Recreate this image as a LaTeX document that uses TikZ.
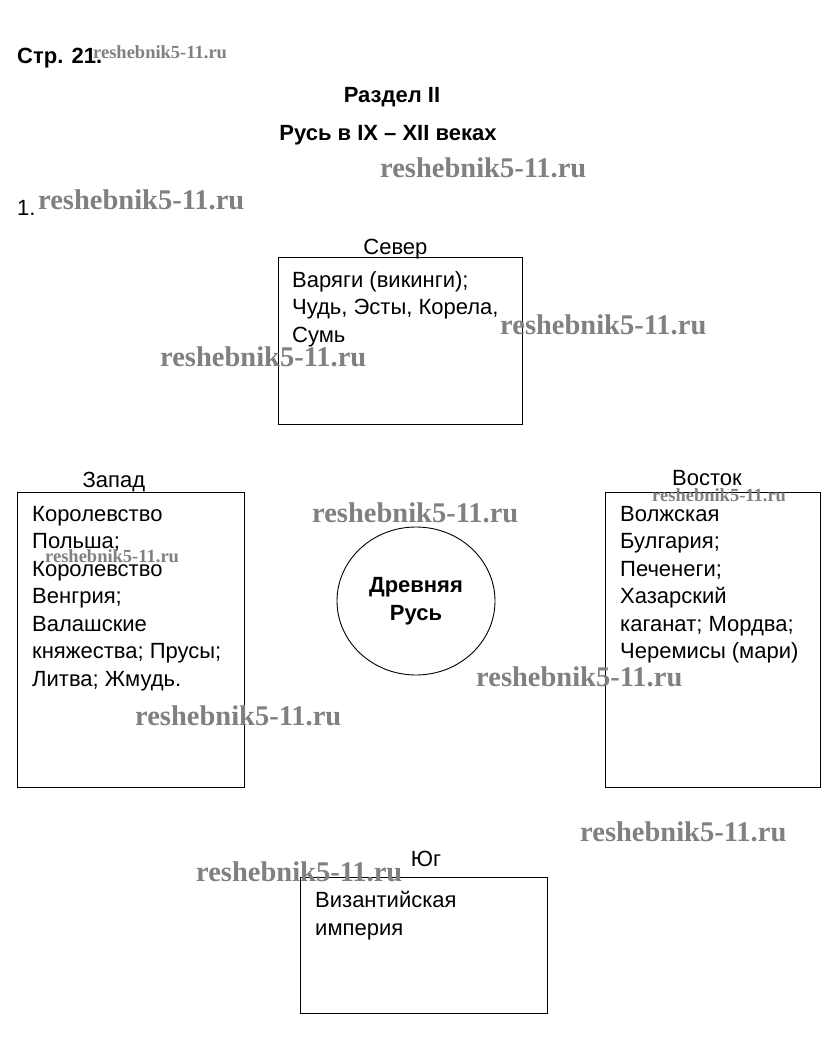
\documentclass[tikz,border=0pt]{standalone}
\usepackage{fontspec}
\setmainfont{Liberation Sans}
\newfontfamily\wmfont{Liberation Serif}
\usetikzlibrary{positioning,shapes.geometric}
\tikzset{
  box/.style={draw, line width=0.9pt, rectangle, inner sep=0pt, anchor=north west},
  boxtext/.style={anchor=north west, inner sep=0pt, align=left,
    font=\fontsize{22}{27.5}\selectfont},
  side/.style={anchor=base, inner sep=0pt, font=\fontsize{22}{24}\selectfont},
  head/.style={anchor=base, inner sep=0pt, font=\bfseries\fontsize{22}{24}\selectfont},
  wmark/.style={anchor=west, inner sep=0pt, text=black!50,
    font=\wmfont\bfseries\fontsize{28.5}{28.5}\selectfont},
  wsmall/.style={wmark, font=\wmfont\bfseries\fontsize{18.5}{18.5}\selectfont}
}
\begin{document}
\begin{tikzpicture}[x=1pt,y=-1pt]
  \useasboundingbox (0,0) rectangle (833,1060);
  % titles
  \node[head, anchor=base west] (page) at (17,63) {Стр. 21.};
  \node[head] (part) at (392,102) {Раздел II};
  \node[head] (title) at (388,140) {Русь в IX – XII веках};
  \node[side, anchor=base west] (task) at (17,215) {1.};
  % boxes
  \node[box, minimum width=244pt, minimum height=167pt] (sever) at (278,257) {};
  \node[box, minimum width=227pt, minimum height=295pt] (zapad) at (17,492) {};
  \node[box, minimum width=215pt, minimum height=295pt] (vostok) at (605,492) {};
  \node[box, minimum width=247pt, minimum height=136pt] (yug) at (300,877) {};
  \node[draw, line width=0.9pt, ellipse, minimum width=158pt, minimum height=148pt,
    align=center, font=\bfseries\fontsize{22}{27.5}\selectfont] (rus) at (416,601)
    {Древняя\\Русь};
  % labels
  \node[side] (lsever) at ([xshift=-5pt,yshift=3pt]sever.north) {Север};
  \node[side] (lzapad) at ([xshift=-17pt,yshift=5pt]zapad.north) {Запад};
  \node[side] (lvostok) at ([xshift=-6pt,yshift=7pt]vostok.north) {Восток};
  \node[side] (lyug) at ([xshift=2pt,yshift=11pt]yug.north) {Юг};
  % texts
  \node[boxtext] (tsever) at ([xshift=14pt,yshift=-14pt]sever.north west)
    {Варяги (викинги);\\Чудь, Эсты, Корела,\\Сумь};
  \node[boxtext] (tzapad) at ([xshift=15pt,yshift=-14pt]zapad.north west)
    {Королевство\\Польша;\\Королевство\\Венгрия;\\Валашские\\княжества; Прусы;\\Литва; Жмудь.};
  \node[boxtext] (tvostok) at ([xshift=15pt,yshift=-14pt]vostok.north west)
    {Волжская\\Булгария;\\Печенеги;\\Хазарский\\каганат; Мордва;\\Черемисы (мари)};
  \node[boxtext] (tyug) at ([xshift=15pt,yshift=-14pt]yug.north west)
    {Византийская\\империя};
  % watermarks
  \node[wsmall] (w1) at (93,52) {reshebnik5-11.ru};
  \node[wmark] (w2) at (380,168) {reshebnik5-11.ru};
  \node[wmark] (w3) at (38,200) {reshebnik5-11.ru};
  \node[wmark] (w4) at (500,325) {reshebnik5-11.ru};
  \node[wmark] (w5) at (160,357) {reshebnik5-11.ru};
  \node[wmark] (w6) at (312,513) {reshebnik5-11.ru};
  \node[wsmall] (w7) at (45,556) {reshebnik5-11.ru};
  \node[wsmall] (w8) at (652,495) {reshebnik5-11.ru};
  \node[wmark] (w9) at (135,716) {reshebnik5-11.ru};
  \node[wmark] (w10) at (476,677) {reshebnik5-11.ru};
  \node[wmark] (w11) at (580,832) {reshebnik5-11.ru};
  \node[wmark] (w12) at (196,872) {reshebnik5-11.ru};
\end{tikzpicture}
\end{document}
